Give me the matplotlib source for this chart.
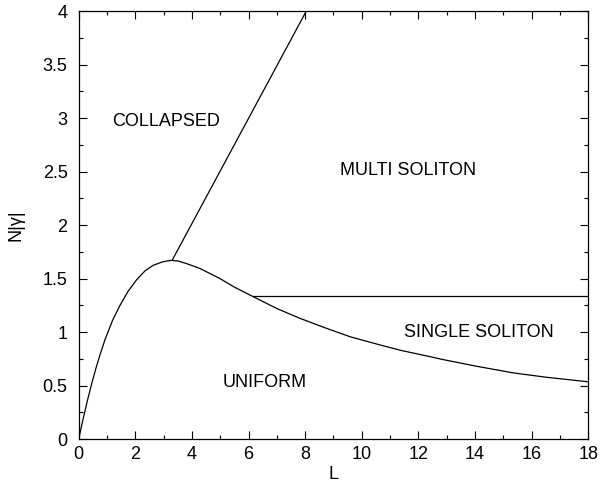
import matplotlib
matplotlib.use("Agg")
import matplotlib.pyplot as plt
from matplotlib.ticker import MultipleLocator

# Boundary between UNIFORM and soliton/collapsed regions
curve_L = [0, 0.15, 0.3, 0.45, 0.6, 0.75, 0.93, 1.2, 1.46, 1.75, 2.05, 2.35,
           2.64, 2.95, 3.23, 3.5, 3.81, 4.28, 4.99, 5.5, 6.17, 7.0, 7.82, 8.7,
           9.59, 10.64, 11.36, 12.41, 12.83, 14.0, 15.36, 16.5, 18.0]
curve_N = [0, 0.181, 0.351, 0.508, 0.653, 0.786, 0.929, 1.112, 1.25, 1.383,
           1.49, 1.574, 1.625, 1.655, 1.67, 1.665, 1.64, 1.595, 1.50, 1.42,
           1.33, 1.22, 1.128, 1.04, 0.956, 0.88, 0.83, 0.77, 0.745, 0.683,
           0.618, 0.578, 0.535]

# Collapse boundary line
collapse_L = [3.3, 8.04]
collapse_N = [1.67, 4.0]

# Single / multi soliton boundary
multi_L = [6.17, 18.0]
multi_N = [1.336, 1.336]

labels = ["COLLAPSED", "MULTI SOLITON", "SINGLE SOLITON", "UNIFORM"]
label_L = [3.08, 11.64, 14.15, 6.58]
label_N = [2.97, 2.51, 1.0, 0.53]

plt.rcParams['font.family'] = ['Liberation Sans', 'DejaVu Sans']

fig = plt.figure(figsize=(6.12, 4.86), dpi=100)
ax = fig.add_axes([0.1286, 0.0967, 0.961 - 0.1286, 0.977 - 0.0967])

lw = 0.9
ax.plot(curve_L, curve_N, color='black', lw=lw)
ax.plot(collapse_L, collapse_N, color='black', lw=lw)
ax.plot(multi_L, multi_N, color='black', lw=lw)

fs = 13
for t, x, y in zip(labels, label_L, label_N):
    ax.text(x, y, t, ha='center', va='center', fontsize=fs)

ax.set_xlim(0, 18)
ax.set_ylim(0, 4)
ax.xaxis.set_major_locator(MultipleLocator(2))
ax.xaxis.set_minor_locator(MultipleLocator(1))
ax.yaxis.set_major_locator(MultipleLocator(0.5))
ax.yaxis.set_minor_locator(MultipleLocator(0.25))
ax.tick_params(which='both', direction='in', top=True, right=True, labelsize=fs, width=0.8)
ax.tick_params(which='major', length=6)
ax.tick_params(which='minor', length=3)
ax.tick_params(axis='x', which='major', pad=5)
ax.tick_params(axis='y', which='major', pad=8)
ax.yaxis.set_major_formatter(plt.FuncFormatter(lambda v, p: f"{v:g}"))
for s in ax.spines.values():
    s.set_linewidth(0.9)

ax.set_xlabel("L", fontsize=fs, labelpad=2)
ax.set_ylabel("N|γ|", fontsize=fs, labelpad=13)

fig.savefig("out.png", dpi=100)
